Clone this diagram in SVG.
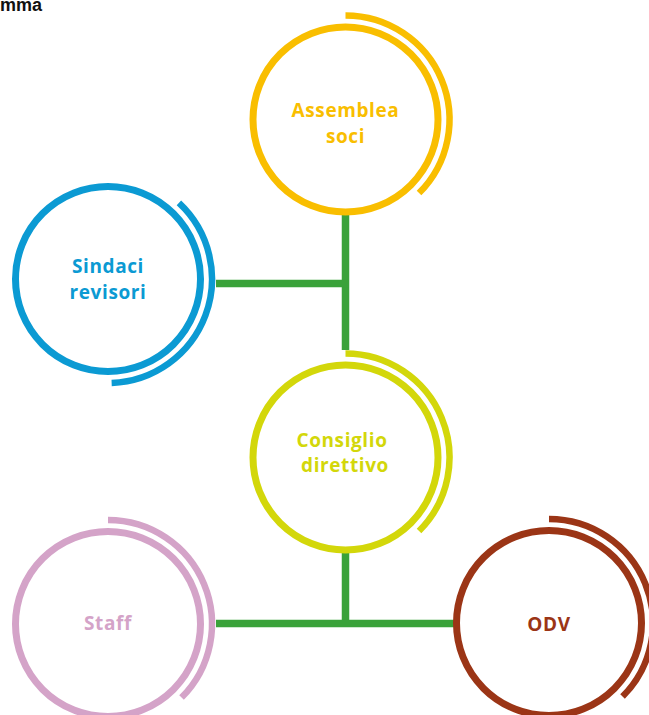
<svg xmlns="http://www.w3.org/2000/svg" xmlns:xlink="http://www.w3.org/1999/xlink" width="649" height="715" viewBox="0 0 649 715">
  <style>
    .ring { fill: #ffffff; stroke-width: 7; }
    .arc { fill: none; stroke-width: 6.5; }
    .label { font-family: "Open Sans", Lato, sans-serif; font-weight: 700; font-size: 19px; letter-spacing: 0.6px; text-anchor: middle; font-variant-ligatures: none; }
    .link { fill: none; stroke: #3aa23a; stroke-width: 7.5; }
    .title { font-family: "Liberation Sans", Arial, sans-serif; font-weight: 700; font-size: 18px; fill: #111111; }
  </style>
  <defs>
    <!-- outer accent arc: from 12 o'clock clockwise to the lower right (135 degrees) -->
    <path id="accent" d="M0 -104 A104 104 0 0 1 73.54 73.54"/>
  </defs>

  <text class="title" x="0" y="11">mma</text>

  <g id="connectors">
    <path class="link" d="M345.5 215 V350"/>
    <path class="link" d="M216 283.5 H349"/>
    <path class="link" d="M345.5 553 V623.5"/>
    <path class="link" d="M216 623.5 H454"/>
  </g>

  <g id="assemblea">
    <circle class="ring" cx="345.5" cy="119.5" r="92.5" style="stroke:#f9be00"/>
    <use xlink:href="#accent" class="arc" transform="translate(345.5 119.5)" style="stroke:#f9be00"/>
    <text class="label" x="345.5" y="117" style="fill:#f9be00">Assemblea</text>
    <text class="label" x="345.5" y="143" style="fill:#f9be00">soci</text>
  </g>

  <g id="sindaci">
    <circle class="ring" cx="108" cy="279" r="92.5" style="stroke:#0b9ad3"/>
    <use xlink:href="#accent" class="arc" transform="translate(108 279) rotate(43)" style="stroke:#0b9ad3"/>
    <text class="label" x="108" y="273" style="fill:#0b9ad3">Sindaci</text>
    <text class="label" x="108" y="299" style="fill:#0b9ad3">revisori</text>
  </g>

  <g id="consiglio">
    <circle class="ring" cx="345.5" cy="457.5" r="92.5" style="stroke:#d3d70a"/>
    <use xlink:href="#accent" class="arc" transform="translate(345.5 457.5)" style="stroke:#d3d70a"/>
    <text class="label" x="342" y="447" style="fill:#d3d70a">Consiglio</text>
    <text class="label" x="345" y="472" style="fill:#d3d70a">direttivo</text>
  </g>

  <g id="staff">
    <circle class="ring" cx="108" cy="624" r="92.5" style="stroke:#d4a3c8"/>
    <use xlink:href="#accent" class="arc" transform="translate(108 624)" style="stroke:#d4a3c8"/>
    <text class="label" x="108" y="630" style="fill:#d4a3c8">Staff</text>
  </g>

  <g id="odv">
    <circle class="ring" cx="549" cy="623" r="92.5" style="stroke:#9b3516"/>
    <use xlink:href="#accent" class="arc" transform="translate(549 623)" style="stroke:#9b3516"/>
    <text class="label" x="549" y="631" style="fill:#9b3516">ODV</text>
  </g>
</svg>
